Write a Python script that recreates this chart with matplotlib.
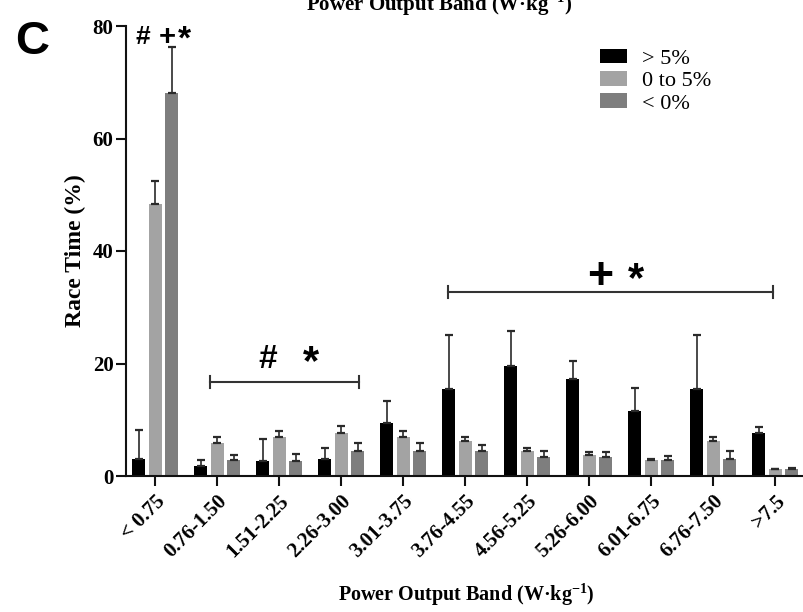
import matplotlib
matplotlib.use("Agg")
import matplotlib.pyplot as plt
import numpy as np
from matplotlib.patches import Patch

plt.rcParams["mathtext.fontset"] = "custom"
plt.rcParams["mathtext.rm"] = "Liberation Serif"
plt.rcParams["mathtext.bf"] = "Liberation Serif:bold"

categories = ["< 0.75", "0.76-1.50", "1.51-2.25", "2.26-3.00", "3.01-3.75", "3.76-4.55",
              "4.56-5.25", "5.26-6.00", "6.01-6.75", "6.76-7.50", ">7.5"]
series_names = ["> 5%", "0 to 5%", "< 0%"]

above5 = [3.0, 1.8, 2.7, 3.0, 9.4, 15.4, 19.5, 17.2, 11.5, 15.4, 7.7]
above5_err = [5.2, 1.0, 3.9, 2.0, 3.9, 9.6, 6.2, 3.3, 4.2, 9.6, 1.1]
zero5 = [48.4, 5.9, 6.9, 7.6, 6.9, 6.3, 4.5, 3.8, 2.9, 6.3, 1.2]
zero5_err = [4.0, 1.0, 1.1, 1.3, 1.1, 0.7, 0.4, 0.4, 0.2, 0.7, 0.1]
below0 = [68.1, 2.8, 2.7, 4.4, 4.4, 4.4, 3.3, 3.3, 2.9, 3.1, 1.2]
below0_err = [8.2, 0.9, 1.2, 1.5, 1.5, 1.2, 1.1, 0.9, 0.6, 1.4, 0.3]

colors = ["#000000", "#a3a3a3", "#7e7e7e"]

fig = plt.figure(figsize=(8.04, 6.12), dpi=100)
ax = fig.add_axes([126/804, 1-476/612, (803-126)/804, (476-26)/612])

x = np.arange(len(categories))
w = 0.21
off = 0.266
serif = "Liberation Serif"
sans = "Liberation Sans"

for i, (vals, errs) in enumerate([(above5, above5_err), (zero5, zero5_err), (below0, below0_err)]):
    xs = x + (i - 1) * off
    ax.bar(xs, vals, width=w, color=colors[i], zorder=2)
    ax.errorbar(xs, vals, yerr=[np.zeros(len(vals)), errs], fmt="none", ecolor="#2a2a2a",
                elinewidth=1.2, capsize=3, capthick=1.6, zorder=3)

ax.set_xlim(-0.47, 10.45)
ax.set_ylim(0, 80)
ax.set_yticks([0, 20, 40, 60, 80])
ax.set_xticks(x)
ax.set_xticklabels(categories, rotation=45, ha="right", rotation_mode="anchor",
                   fontfamily=serif, fontweight="bold", fontsize=15)
for lab in ax.get_yticklabels():
    lab.set_fontfamily(serif)
    lab.set_fontweight("bold")
    lab.set_fontsize(15)
ax.tick_params(axis="both", direction="out", length=7, width=1.5, color="#111111")
ax.tick_params(axis="y", pad=2)
ax.tick_params(axis="x", pad=4)
for s in ["top", "right"]:
    ax.spines[s].set_visible(False)
for s in ["left", "bottom"]:
    ax.spines[s].set_linewidth(1.5)
    ax.spines[s].set_color("#111111")

ax.set_ylabel("Race Time (%)", fontfamily=serif, fontweight="bold", fontsize=17, labelpad=5)

label = "Power Output Band (W·kg$^{\\mathbf{-1}}$)"
fig.text(466/804, 1-595/612, label, ha="center", va="center",
         fontfamily=serif, fontweight="bold", fontsize=14.5)
fig.text(439/804, 1-11/612, label, ha="center", va="baseline",
         fontfamily=serif, fontweight="bold", fontsize=15)

fig.text(32/804, 1-42/612, "C", ha="center", va="center", fontfamily=sans, fontweight="bold", fontsize=34)

# brackets
def bracket(x0, x1, y, h=1.0):
    ax.plot([x0, x1], [y, y], color="#333333", lw=1.5, zorder=4)
    ax.plot([x0, x0], [y - h, y + h], color="#333333", lw=1.5, zorder=4)
    ax.plot([x1, x1], [y - h, y + h], color="#333333", lw=1.5, zorder=4)

bracket(0.89, 3.29, 16.7)
bracket(4.73, 9.97, 32.7)

ax.text(1.81, 20.8, "#", ha="center", va="center", fontfamily=sans, fontweight="bold", fontsize=24)
ax.text(2.52, 20.0, "*", ha="center", va="center", fontfamily=sans, fontweight="bold", fontsize=30)
ax.text(7.17, 35.3, "+", ha="center", va="center", fontfamily=sans, fontweight="bold", fontsize=32)
ax.text(7.75, 34.9, "*", ha="center", va="center", fontfamily=sans, fontweight="bold", fontsize=30)

ax.text(-0.2, 78.0, "#", ha="center", va="center", fontfamily=sans, fontweight="bold", fontsize=19)
ax.text(0.19, 78.0, "+", ha="center", va="center", fontfamily=sans, fontweight="bold", fontsize=21)
ax.text(0.48, 77.5, "*", ha="center", va="center", fontfamily=sans, fontweight="bold", fontsize=24)

handles = [Patch(facecolor=c, edgecolor="none") for c in colors]
leg = fig.legend(handles, series_names, loc="upper left", bbox_to_anchor=(600/804, 1 - 49/612),
                 frameon=False, prop={"family": serif, "size": 16}, handlelength=1.2,
                 handleheight=0.62, labelspacing=0.1, handletextpad=0.7,
                 borderaxespad=0, borderpad=0)
fig.savefig("out.png", dpi=100)
